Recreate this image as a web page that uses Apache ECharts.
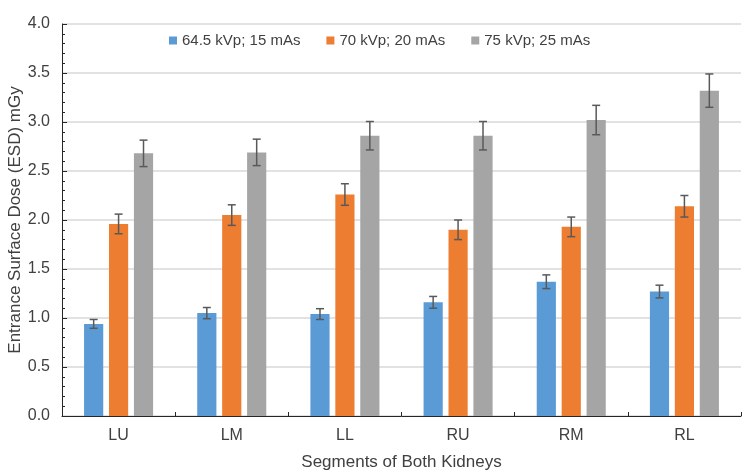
<!DOCTYPE html>
<html>
<head>
<meta charset="utf-8">
<script src="https://cdn.jsdelivr.net/npm/echarts@6/dist/echarts.min.js"></script>
<style>
  html, body { margin: 0; padding: 0; background: #fff; }
  #chart { width: 750px; height: 476px; }
</style>
</head>
<body>
<div id="chart"></div>
<script>
const categories = ['LU', 'LM', 'LL', 'RU', 'RM', 'RL'];
const seriesNames = ['64.5 kVp; 15 mAs', '70 kVp; 20 mAs', '75 kVp; 25 mAs'];
const dose64 = [0.94, 1.05, 1.04, 1.16, 1.37, 1.27];
const err64 = [0.045, 0.057, 0.055, 0.06, 0.07, 0.065];
const dose70 = [1.96, 2.05, 2.26, 1.90, 1.93, 2.14];
const err70 = [0.10, 0.105, 0.11, 0.10, 0.10, 0.11];
const dose75 = [2.68, 2.69, 2.86, 2.86, 3.02, 3.32];
const err75 = [0.135, 0.135, 0.145, 0.145, 0.15, 0.17];

const colors = ['#5b9bd5', '#ed7d31', '#a5a5a5'];
const catGap = 0.39;
const barGap = 0.30;
const font = '"Liberation Sans", Arial, sans-serif';

const values = [dose64, dose70, dose75];
const errors = [err64, err70, err75];

// error bars drawn on top of the bars, same offsets as the bar layout
function errorBars(k) {
    return {
        type: 'custom',
        name: seriesNames[k],
        z: 10,
        silent: true,
        renderItem: function (params, api) {
            const idx = api.value(0);
            const lo = api.coord([idx, api.value(1)]);
            const hi = api.coord([idx, api.value(2)]);
            const band = api.size([1, 0])[0];
            const used = band * (1 - catGap);
            const w = used / (3 + 2 * barGap);
            const x = lo[0] - used / 2 + w / 2 + k * w * (1 + barGap);
            const cap = 4;
            const style = { stroke: '#595959', lineWidth: 1.5 };
            return {
                type: 'group',
                children: [
                    { type: 'line', shape: { x1: x, y1: hi[1], x2: x, y2: lo[1] }, style: style },
                    { type: 'line', shape: { x1: x - cap, y1: hi[1], x2: x + cap, y2: hi[1] }, style: style },
                    { type: 'line', shape: { x1: x - cap, y1: lo[1], x2: x + cap, y2: lo[1] }, style: style }
                ]
            };
        },
        data: values[k].map(function (v, i) { return [i, v - errors[k][i], v + errors[k][i]]; })
    };
}

const bars = values.map(function (vals, k) {
    return {
        type: 'bar',
        name: seriesNames[k],
        data: vals,
        itemStyle: { color: colors[k] },
        barGap: (barGap * 100) + '%',
        barCategoryGap: (catGap * 100) + '%'
    };
});

const chart = echarts.init(document.getElementById('chart'));
chart.setOption({
    backgroundColor: '#fff',
    animation: false,
    textStyle: { fontFamily: font },
    legend: {
        data: seriesNames,
        left: 164,
        top: 28,
        itemWidth: 8,
        itemHeight: 8,
        itemGap: 26,
        icon: 'rect',
        textStyle: { color: '#404040', fontSize: 15, fontFamily: font }
    },
    grid: { left: 62, right: 9, top: 24, bottom: 60, containLabel: false, outerBoundsMode: 'none' },
    xAxis: {
        type: 'category',
        data: categories,
        name: 'Segments of Both Kidneys',
        nameLocation: 'middle',
        nameGap: 38,
        nameMoveOverlap: false,
        nameTextStyle: { color: '#404040', fontSize: 17, fontFamily: font },
        axisLine: { lineStyle: { color: '#262626', width: 1 } },
        axisTick: { show: true, inside: true, length: 4, alignWithLabel: false, lineStyle: { color: '#262626' } },
        axisLabel: { color: '#404040', fontSize: 16, margin: 12, fontFamily: font },
        splitLine: { show: false }
    },
    yAxis: {
        type: 'value',
        min: 0,
        max: 4,
        interval: 0.5,
        name: 'Entrance Surface Dose (ESD) mGy',
        nameLocation: 'middle',
        nameGap: 38,
        nameRotate: 90,
        nameMoveOverlap: false,
        nameTextStyle: { color: '#404040', fontSize: 17, fontFamily: font },
        axisLine: { show: true, lineStyle: { color: '#262626', width: 1 } },
        axisTick: { show: true, inside: true, length: 5, lineStyle: { color: '#262626' } },
        minorTick: { show: true, splitNumber: 5, length: 3, lineStyle: { color: '#262626' } },
        axisLabel: {
            color: '#404040', fontSize: 16, margin: 12, fontFamily: font,
            formatter: function (v) { return v.toFixed(1); }
        },
        splitLine: { show: true, lineStyle: { color: '#d9d9d9', width: 1.5 } }
    },
    series: bars.concat([errorBars(0), errorBars(1), errorBars(2)])
});
</script>
</body>
</html>
